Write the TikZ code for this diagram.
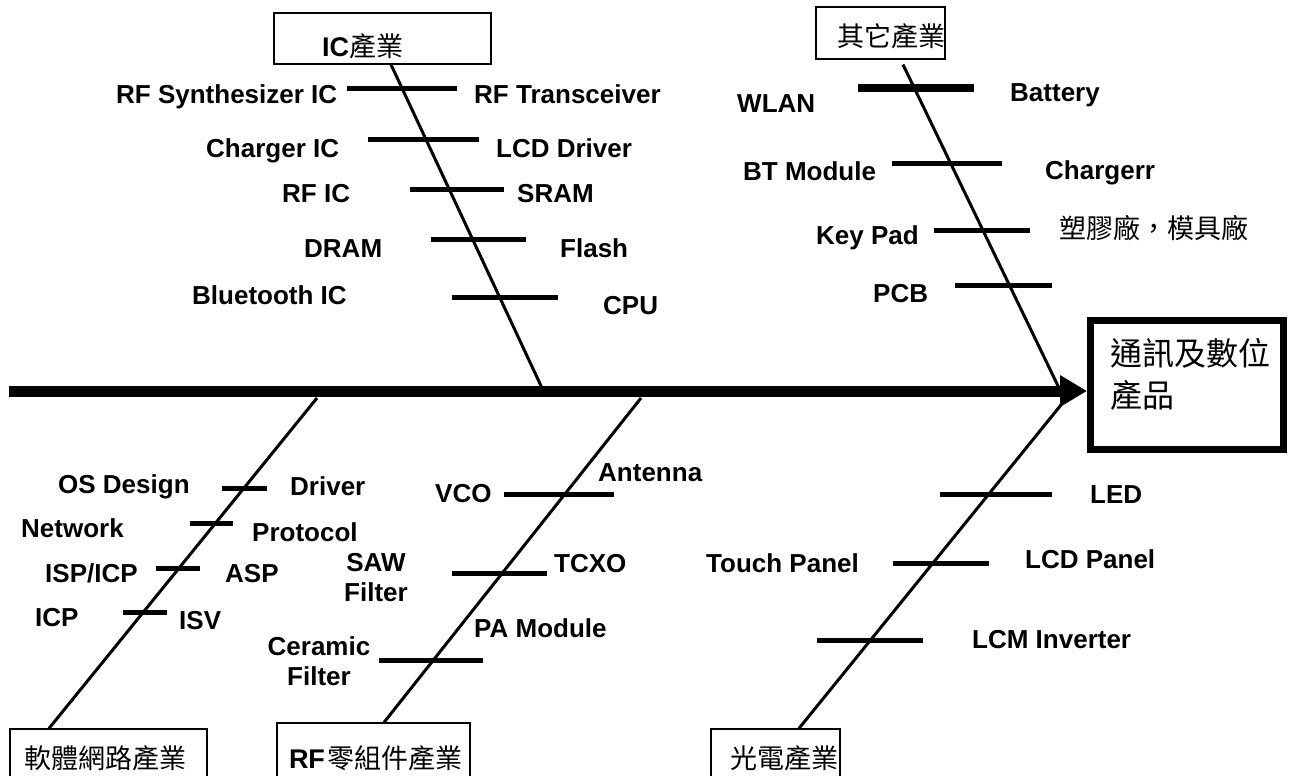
\documentclass[tikz,border=0pt]{standalone}
\usepackage{fontspec}
\setmainfont{Liberation Sans}
\newfontfamily\cjk{Noto Sans CJK TC}
\usetikzlibrary{arrows.meta, positioning}

\tikzset{
  lbl/.style={font=\fontsize{26}{30}\selectfont\bfseries, inner sep=0pt, anchor=base west},
  rib/.style={line width=5pt},
  bone/.style={line width=3pt},
  catbox/.style={draw, line width=1.2pt, inner sep=0pt, text depth=6pt, align=left,
                 font=\fontsize{27}{30}\selectfont\cjk},
  outbox/.style={draw, line width=7pt, minimum width=193pt, minimum height=129pt},
}

\begin{document}
\begin{tikzpicture}[x=1pt, y=-1pt]
  \useasboundingbox (0,0) rectangle (1293,776);
  \clip (0,0) rectangle (1293,776);

  % category boxes
  \node[catbox, text width=217pt, minimum height=51pt, text height=43pt] (ic) at (382.5,38.5)
       {\hspace*{48pt}{\rmfamily\bfseries IC}產業};
  \node[catbox, text width=129pt, minimum height=52pt, text height=34pt] (other) at (880.5,33)
       {\hspace*{21pt}其它產業};
  \node[catbox, text width=197pt, minimum height=58pt, text height=26pt] (soft) at (108.5,758)
       {\hspace*{14pt}軟體網路產業};
  \node[catbox, text width=193pt, minimum height=70pt, text height=26pt] (rf) at (373.5,758)
       {\hspace*{12pt}{\rmfamily\bfseries RF}\hspace{3pt}零組件產業};
  \node[catbox, text width=129pt, minimum height=58pt, text height=26pt] (opto) at (775.5,758)
       {\hspace*{19pt}光電產業};

  % head
  \node[outbox] (prod) at (1187,385) {};
  \node[font=\fontsize{32}{42}\selectfont\cjk, align=left, anchor=north west, inner sep=0pt]
       (prodtxt) at (1110,338) {通訊及數位\\產品};

  % spine and bones
  \coordinate (tail) at (9,391);
  \draw[line width=11pt, -{Triangle[length=27pt, width=30pt]}] (tail) -- (tail -| prod.west);
  \coordinate (icj) at (542,388);
  \coordinate (otj) at (1059,388);
  \coordinate (swj) at (317,398);
  \coordinate (rfj) at (641,398);
  \coordinate (opj) at (1065,400);
  \draw[bone] ([xshift=8.5pt]ic.south) -- (icj);
  \draw[bone] ([xshift=22.5pt, yshift=-5pt]other.south) -- (otj);
  \draw[bone] ([xshift=-59.5pt]soft.north) -- (swj);
  \draw[bone] ([xshift=10.5pt]rf.north) -- (rfj);
  \draw[bone] ([xshift=23.5pt]opto.north) -- (opj);

  % ribs
  \foreach \xa/\xb/\yy in {347/457/88, 368/479/139, 410/504/189, 431/526/239, 452/558/297,
                          892/1002/163, 934/1030/230, 955/1052/285,
                          222/267/488, 190/233/523, 156/200/568, 123/167/612,
                          504/614/494, 452/547/573, 379/483/660,
                          940/1052/494, 893/989/563, 817/923/640}
    \draw[rib] (\xa,\yy) -- (\xb,\yy);
  \draw[line width=8pt] (858,88) -- (974,88);

  % IC
  \node[lbl] (synth) at (116,103) {RF Synthesizer IC};
  \node[lbl] (trans) at (474,103) {RF Transceiver};
  \node[lbl] (chgic) at (206,157) {Charger IC};
  \node[lbl] (lcddrv) at (496,157) {LCD Driver};
  \node[lbl] (rfic) at (282,202) {RF IC};
  \node[lbl] (sram) at (517,202) {SRAM};
  \node[lbl] (dram) at (304,257) {DRAM};
  \node[lbl] (flash) at (560,257) {Flash};
  \node[lbl] (btic) at (192,304) {Bluetooth IC};
  \node[lbl] (cpu) at (603,314) {CPU};

  % other
  \node[lbl] (wlan) at (737,112) {WLAN};
  \node[lbl] (batt) at (1010,101) {Battery};
  \node[lbl] (btmod) at (743,180) {BT Module};
  \node[lbl] (charger) at (1045,179) {Chargerr};
  \node[lbl] (keypad) at (816,244) {Key Pad};
  \node[lbl, font=\fontsize{27}{30}\selectfont\cjk] (plastic) at (1059,238) {塑膠廠，模具廠};
  \node[lbl] (pcb) at (873,302) {PCB};

  % software
  \node[lbl] (osdes) at (58,493) {OS Design};
  \node[lbl] (driver) at (290,495) {Driver};
  \node[lbl] (network) at (21,537) {Network};
  \node[lbl] (protocol) at (252,541) {Protocol};
  \node[lbl] (ispicp) at (45,582) {ISP/ICP};
  \node[lbl] (asp) at (225,582) {ASP};
  \node[lbl] (icp) at (35,626) {ICP};
  \node[lbl] (isv) at (179,629) {ISV};

  % RF
  \node[lbl] (vco) at (435,502) {VCO};
  \node[lbl] (antenna) at (598,481) {Antenna};
  \node[lbl, anchor=north, align=center] (saw) at (376,553) {SAW\\Filter};
  \node[lbl] (tcxo) at (554,572) {TCXO};
  \node[lbl, anchor=north, align=center] (ceramic) at (319,636) {Ceramic\\Filter};
  \node[lbl] (pamod) at (474,637) {PA Module};

  % opto
  \node[lbl] (led) at (1090,503) {LED};
  \node[lbl] (touch) at (706,572) {Touch Panel};
  \node[lbl] (lcdpanel) at (1025,568) {LCD Panel};
  \node[lbl] (lcm) at (972,648) {LCM Inverter};
\end{tikzpicture}
\end{document}
